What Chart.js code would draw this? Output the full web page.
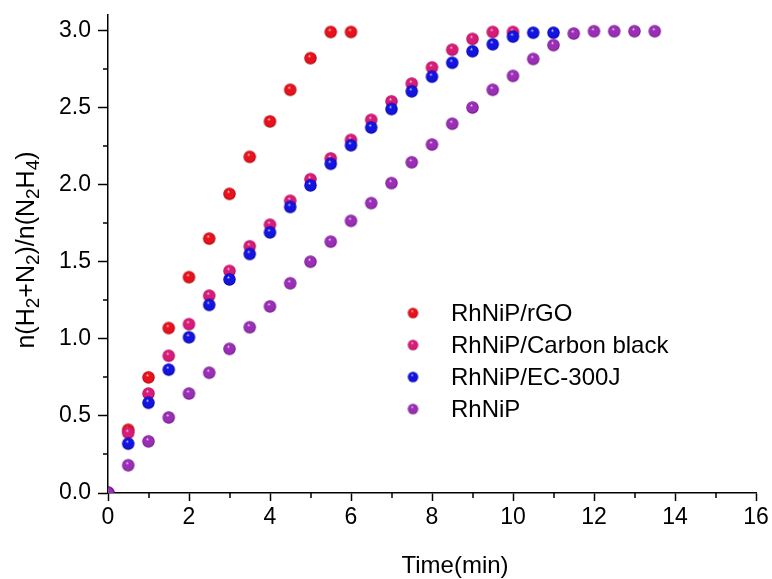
<!DOCTYPE html>
<html>
<head>
<meta charset="utf-8">
<script src="https://cdn.jsdelivr.net/npm/chart.js@4.4.1/dist/chart.umd.min.js"></script>
<style>
  html, body { margin: 0; padding: 0; background: #fff; }
  #wrap { width: 772px; height: 579px; }
</style>
</head>
<body>
<div id="wrap"><canvas id="Chart" width="772" height="579"></canvas></div>
<script>
// Data: time in minutes, 0.5 min steps
var seriesNames = ['RhNiP/rGO', 'RhNiP/Carbon black', 'RhNiP/EC-300J', 'RhNiP'];
var timeStep = 0.5;
var rGO = [0, 0.41, 0.75, 1.07, 1.40, 1.65, 1.94, 2.18, 2.41, 2.615, 2.82, 2.99, 2.99];
var carbonBlack = [0, 0.39, 0.645, 0.89, 1.095, 1.28, 1.44, 1.60, 1.74, 1.895, 2.035, 2.17, 2.29,
    2.42, 2.54, 2.655, 2.76, 2.875, 2.945, 2.99, 2.99];
var ec300j = [0, 0.32, 0.585, 0.80, 1.01, 1.22, 1.385, 1.55, 1.69, 1.855, 1.995, 2.135, 2.255,
    2.37, 2.49, 2.605, 2.70, 2.79, 2.865, 2.91, 2.96, 2.985, 2.985];
var rhnip = [0, 0.18, 0.335, 0.49, 0.645, 0.78, 0.935, 1.075, 1.21, 1.36, 1.50, 1.63, 1.765,
    1.88, 2.01, 2.145, 2.26, 2.395, 2.50, 2.615, 2.705, 2.815, 2.905, 2.98, 2.995, 2.995, 2.995, 2.995];
var xTicks = [0, 2, 4, 6, 8, 10, 12, 14, 16];
var yTicks = [0.0, 0.5, 1.0, 1.5, 2.0, 2.5, 3.0];

var colors = ['#e8121c', '#d81a78', '#1414e0', '#9a2fb6'];
var darks = ['#a00008', '#980a50', '#00009a', '#68107e'];
var FONT = '"Liberation Sans", Arial, sans-serif';

// shaded ball used as point marker
function ball(color, dark, r) {
    var c = document.createElement('canvas');
    var s = Math.ceil(r * 2) + 2;
    c.width = s; c.height = s;
    var g = c.getContext('2d');
    var cx = s / 2, cy = s / 2;
    var grad = g.createRadialGradient(cx - r * 0.2, cy - r * 0.4, 0, cx, cy, r);
    grad.addColorStop(0, '#ffffff');
    grad.addColorStop(0.25, color);
    grad.addColorStop(0.8, color);
    grad.addColorStop(1, dark);
    g.fillStyle = grad;
    g.beginPath();
    g.arc(cx, cy, r, 0, Math.PI * 2);
    g.fill();
    return c;
}

function toPoints(vals) {
    return vals.map(function (v, i) { return { x: i * timeStep, y: v }; });
}

var allValues = [rGO, carbonBlack, ec300j, rhnip];
var datasets = allValues.map(function (vals, i) {
    return {
        label: seriesNames[i],
        data: toPoints(vals),
        pointStyle: ball(colors[i], darks[i], 6.2),
        pointRadius: 6,
        showLine: false,
        order: 4 - i,
        legendBall: ball(colors[i], darks[i], 5.2)
    };
});

// draw text pieces, subscripts smaller and lowered
function drawParts(ctx, parts, x, y, big, small) {
    parts.forEach(function (p) {
        ctx.font = (p[1] ? small : big) + 'px ' + FONT;
        ctx.fillText(p[0], x, y + (p[1] ? 5 : 0));
        x += ctx.measureText(p[0]).width;
    });
}
function partsWidth(ctx, parts, big, small) {
    var w = 0;
    parts.forEach(function (p) {
        ctx.font = (p[1] ? small : big) + 'px ' + FONT;
        w += ctx.measureText(p[0]).width;
    });
    return w;
}

// minor ticks, axis titles and legend inside the plot
var extras = {
    id: 'extras',
    afterDraw: function (chart) {
        var ctx = chart.ctx;
        var xs = chart.scales.x, ys = chart.scales.y;
        var a = chart.chartArea;
        ctx.save();
        ctx.strokeStyle = '#000';
        ctx.lineWidth = 1.5;
        ctx.beginPath();
        for (var v = 1; v < 16; v += 2) {
            var px = Math.round(xs.getPixelForValue(v));
            ctx.moveTo(px, a.bottom);
            ctx.lineTo(px, a.bottom + 5);
        }
        for (var w = 0.25; w < 3.1; w += 0.5) {
            var py = Math.round(ys.getPixelForValue(w));
            ctx.moveTo(a.left, py);
            ctx.lineTo(a.left - 5, py);
        }
        ctx.stroke();

        ctx.fillStyle = '#000';
        ctx.textBaseline = 'alphabetic';

        // x title
        ctx.font = '24px ' + FONT;
        ctx.textAlign = 'center';
        ctx.fillText('Time(min)', 455, 573);

        // y title with subscripts
        var parts = [['n(H', 0], ['2', 1], ['+N', 0], ['2', 1], [')/n(N', 0], ['2', 1], ['H', 0], ['4', 1], [')', 0]];
        ctx.textAlign = 'left';
        var tw = partsWidth(ctx, parts, 25, 19);
        ctx.save();
        ctx.translate(34, 250);
        ctx.rotate(-Math.PI / 2);
        drawParts(ctx, parts, -tw / 2, 0, 25, 19);
        ctx.restore();

        // legend
        ctx.font = '24px ' + FONT;
        ctx.textBaseline = 'middle';
        var lx = 413, ly = 313;
        chart.data.datasets.forEach(function (ds, i) {
            var y = ly + i * 32;
            var img = ds.legendBall;
            ctx.drawImage(img, lx - img.width / 2, y - img.height / 2);
            ctx.fillText(ds.label, 451, y + 1);
        });
        ctx.restore();
    }
};

var config = {
    type: 'scatter',
    data: { datasets: datasets },
    options: {
        responsive: false,
        animation: false,
        layout: { padding: { top: 15, right: 16, left: 0, bottom: 0 } },
        plugins: {
            legend: { display: false },
            tooltip: { enabled: false }
        },
        scales: {
            x: {
                type: 'linear',
                min: 0,
                max: 16,
                afterBuildTicks: function (s) { s.ticks = xTicks.map(function (v) { return { value: v }; }); },
                afterFit: function (s) { s.height = 86; },
                grid: { drawOnChartArea: false, tickLength: 8, tickColor: '#000', tickWidth: 1.5 },
                border: { color: '#000', width: 1.5 },
                ticks: {
                    color: '#000', padding: 3, maxRotation: 0,
                    font: { family: FONT, size: 23 }
                }
            },
            y: {
                type: 'linear',
                min: 0,
                max: 3.1,
                afterBuildTicks: function (s) { s.ticks = yTicks.map(function (v) { return { value: v }; }); },
                afterFit: function (s) { s.width = 108; s.paddingTop = 0; s.paddingBottom = 0; },
                grid: { drawOnChartArea: false, tickLength: 10, tickColor: '#000', tickWidth: 1.5 },
                border: { color: '#000', width: 1.5 },
                ticks: {
                    color: '#000', padding: 7,
                    callback: function (v) { return v.toFixed(1); },
                    font: { family: FONT, size: 23 }
                }
            }
        }
    },
    plugins: [extras]
};

var ctx = document.getElementById('Chart').getContext('2d');
var myChart = new Chart(ctx, config);
</script>
</body>
</html>
